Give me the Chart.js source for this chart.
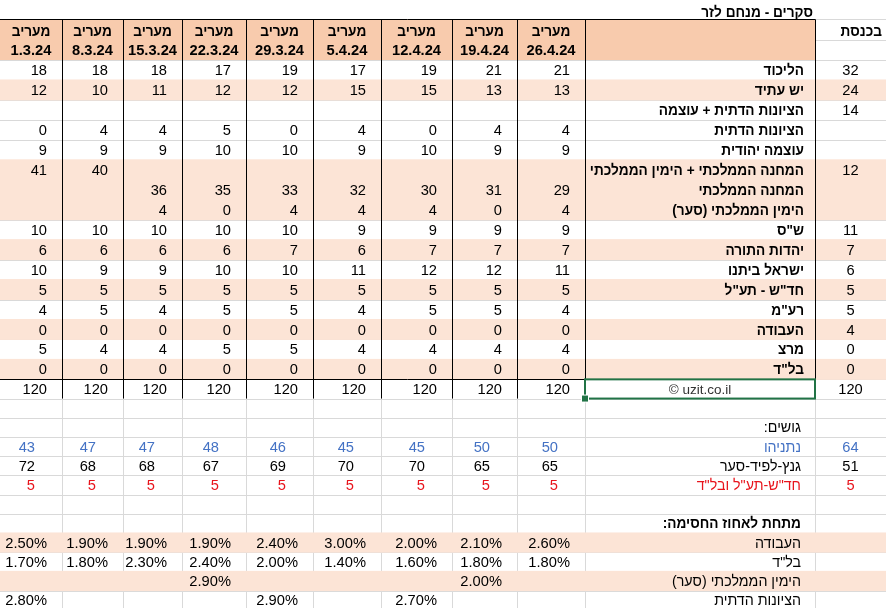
<!DOCTYPE html>
<html lang="he" dir="rtl">
<head>
<meta charset="utf-8">
<script src="https://cdn.jsdelivr.net/npm/chart.js@4.4.1/dist/chart.umd.min.js"></script>
<style>
html, body { margin: 0; padding: 0; background: #fff; overflow: hidden; }
#wrap { position: relative; width: 886px; height: 608px; }
</style>
</head>
<body>
<div id="wrap"><canvas id="grafica"></canvas></div>
<script>
// ---- datos ----
const titulo = 'סקרים - מנחם לזר';
const tituloKneset = 'בכנסת';
const iton = 'מעריב';
const sekerim = ['1.3.24', '8.3.24', '15.3.24', '22.3.24', '29.3.24', '5.4.24', '12.4.24', '19.4.24', '26.4.24'];

const miflagot = ['הליכוד', 'יש עתיד', 'הציונות הדתית + עוצמה', 'הציונות הדתית', 'עוצמה יהודית',
    'המחנה הממלכתי + הימין הממלכתי', 'המחנה הממלכתי', 'הימין הממלכתי (סער)', 'ש"ס', 'יהדות התורה',
    'ישראל ביתנו', 'חד"ש - תע"ל', 'רע"מ', 'העבודה', 'מרצ', 'בל"ד'];
const bakneset = [32, 24, 14, null, null, 12, null, null, 11, 7, 6, 5, 5, 4, 0, 0];

const likud = [18, 18, 18, 17, 19, 17, 19, 21, 21];
const yeshAtid = [12, 10, 11, 12, 12, 15, 15, 13, 13];
const tziyonutOtzma = [null, null, null, null, null, null, null, null, null];
const tziyonut = [0, 4, 4, 5, 0, 4, 0, 4, 4];
const otzma = [9, 9, 9, 10, 10, 9, 10, 9, 9];
const machaneYamin = [41, 40, null, null, null, null, null, null, null];
const machane = [null, null, 36, 35, 33, 32, 30, 31, 29];
const yamin = [null, null, 4, 0, 4, 4, 4, 0, 4];
const shas = [10, 10, 10, 10, 10, 9, 9, 9, 9];
const yahadut = [6, 6, 6, 6, 7, 6, 7, 7, 7];
const israelBeitenu = [10, 9, 9, 10, 10, 11, 12, 12, 11];
const hadash = [5, 5, 5, 5, 5, 5, 5, 5, 5];
const raam = [4, 5, 4, 5, 5, 4, 5, 5, 4];
const avoda = [0, 0, 0, 0, 0, 0, 0, 0, 0];
const meretz = [5, 4, 4, 5, 5, 4, 4, 4, 4];
const balad = [0, 0, 0, 0, 0, 0, 0, 0, 0];
const sachHakol = [120, 120, 120, 120, 120, 120, 120, 120, 120];
const sachKneset = 120;
const credito = '© uzit.co.il';

const tituloGushim = 'גושים:';
const gushim = ['נתניהו', 'גנץ-לפיד-סער', 'חד"ש-תע"ל ובל"ד'];
const gushBakneset = [64, 51, 5];
const netanyahu = [43, 47, 47, 48, 46, 45, 45, 50, 50];
const gantz = [72, 68, 68, 67, 69, 70, 70, 65, 65];
const hadashBalad = [5, 5, 5, 5, 5, 5, 5, 5, 5];

const tituloAchuz = 'מתחת לאחוז החסימה:';
const mitachat = ['העבודה', 'בל"ד', 'הימין הממלכתי (סער)', 'הציונות הדתית'];
const avodaAchuz = [2.5, 1.9, 1.9, 1.9, 2.4, 3.0, 2.0, 2.1, 2.6];
const baladAchuz = [1.7, 1.8, 2.3, 2.4, 2.0, 1.4, 1.6, 1.8, 1.8];
const yaminAchuz = [null, null, null, 2.9, null, null, null, 2.0, null];
const tziyonutAchuz = [2.8, null, null, null, 2.9, null, 2.7, null, null];

// ---- diseño ----
const FUENTE = '"Liberation Sans", Arial, sans-serif';
const TAM = 14.7;
const DURAZNO = '#f8cbad';
const DURAZNO_CLARO = '#fce4d6';
const AZUL = '#4472c4';
const ROJO = '#e8141c';
// columnas de derecha a izquierda: כנסת, תווית, 26.4 ... 1.3
const ANCHO_COL = [71, 230, 68, 65, 71, 68, 67, 64, 59, 61, 62];
const ALTO_FILA = [19.3, 20.35, 20.35].concat(Array(16).fill(19.96), Array(12).fill(19.2));

const bordesCol = [0];
ANCHO_COL.forEach(w => bordesCol.push(bordesCol[bordesCol.length - 1] + w));
const bordesFila = [0];
ALTO_FILA.forEach(h => bordesFila.push(bordesFila[bordesFila.length - 1] + h));
const ANCHO_TOTAL = bordesCol[bordesCol.length - 1];

const filasClaras = [4, 8, 9, 10, 12, 14, 16, 18, 27, 29];

const colSeker = i => 10 - i;
const centroFila = r => (bordesFila[r] + bordesFila[r + 1]) / 2;
const centroCol = k => (bordesCol[k] + bordesCol[k + 1]) / 2;

function derecha(k, r, t, pad, extra) {
    return Object.assign({ x: bordesCol[k] + pad, y: centroFila(r), t: String(t), a: 'right' }, extra || {});
}
function centro(k, r, t, extra) {
    return Object.assign({ x: centroCol(k), y: centroFila(r), t: String(t), a: 'center' }, extra || {});
}

// encabezado
const encabezado = [
    derecha(1, 0, titulo, 2, { b: true, dy: 2 }),
    derecha(0, 1, tituloKneset, 4, { b: true, dy: 1 })
];
sekerim.forEach((s, i) => {
    encabezado.push(centro(colSeker(i), 1, iton, { b: true, dy: 1.5 }));
    encabezado.push(centro(colSeker(i), 2, s, { b: true }));
});

// mandatim
const filasMiflagot = [likud, yeshAtid, tziyonutOtzma, tziyonut, otzma, machaneYamin, machane, yamin,
    shas, yahadut, israelBeitenu, hadash, raam, avoda, meretz, balad];
const etiquetas = [], valores = [], kneset = [];
miflagot.forEach((m, j) => {
    const r = 3 + j;
    etiquetas.push(derecha(1, r, m, 11, { b: true }));
    if (bakneset[j] !== null) kneset.push(centro(0, r, bakneset[j]));
    filasMiflagot[j].forEach((v, i) => {
        if (v !== null) valores.push(derecha(colSeker(i), r, v, 15));
    });
});
sachHakol.forEach((v, i) => valores.push(derecha(colSeker(i), 19, v, 15)));
kneset.push(centro(0, 19, sachKneset));
etiquetas.push(centro(1, 19, credito, { c: '#333', tam: 13.5 }));

// gushim
etiquetas.push(derecha(1, 21, tituloGushim, 14));
const colores = [AZUL, '#000', ROJO];
[netanyahu, gantz, hadashBalad].forEach((fila, j) => {
    const r = 22 + j;
    etiquetas.push(derecha(1, r, gushim[j], 14, { c: colores[j] }));
    kneset.push(centro(0, r, gushBakneset[j], { c: colores[j] }));
    fila.forEach((v, i) => valores.push(derecha(colSeker(i), r, v, 27, { c: colores[j] })));
});

// achuz hachasima
etiquetas.push(derecha(1, 26, tituloAchuz, 14, { b: true }));
[avodaAchuz, baladAchuz, yaminAchuz, tziyonutAchuz].forEach((fila, j) => {
    const r = 27 + j;
    etiquetas.push(derecha(1, r, mitachat[j], 14));
    fila.forEach((v, i) => {
        if (v !== null) valores.push(derecha(colSeker(i), r, v.toFixed(2) + '%', 15));
    });
});

// ---- plugin de tabla ----
const tablaPlugin = {
    id: 'tabla',
    beforeDatasetsDraw(chart) {
        const { ctx, scales: { x, y } } = chart;
        const X = v => x.getPixelForValue(v);
        const Y = v => y.getPixelForValue(v);
        const n = v => Math.round(v) + 0.5;
        ctx.save();

        // lineas de cuadricula
        ctx.strokeStyle = '#d9d9d9';
        ctx.lineWidth = 1;
        ctx.beginPath();
        for (let r = 1; r < bordesFila.length; r++) {
            ctx.moveTo(X(ANCHO_TOTAL), n(Y(bordesFila[r])));
            ctx.lineTo(X(0), n(Y(bordesFila[r])));
        }
        for (let k = 1; k < bordesCol.length - 1; k++) {
            ctx.moveTo(n(X(bordesCol[k])), Y(bordesFila[1]));
            ctx.lineTo(n(X(bordesCol[k])), Y(bordesFila[bordesFila.length - 1]));
        }
        ctx.stroke();

        // rellenos
        ctx.fillStyle = DURAZNO;
        ctx.fillRect(X(ANCHO_TOTAL), Y(bordesFila[1]), X(bordesCol[1]) - X(ANCHO_TOTAL), Y(bordesFila[3]) - Y(bordesFila[1]));
        ctx.fillStyle = DURAZNO_CLARO;
        filasClaras.forEach(r => {
            const y0 = Y(bordesFila[r]) - 0.5, y1 = Y(bordesFila[r + 1]) + 0.5;
            ctx.fillRect(X(ANCHO_TOTAL), y0, X(0) - X(ANCHO_TOTAL), y1 - y0);
        });

        // bordes negros
        ctx.strokeStyle = '#000';
        ctx.beginPath();
        ctx.moveTo(X(ANCHO_TOTAL), n(Y(bordesFila[1])));
        ctx.lineTo(X(bordesCol[1]), n(Y(bordesFila[1])));
        ctx.moveTo(X(ANCHO_TOTAL), n(Y(bordesFila[19])));
        ctx.lineTo(X(bordesCol[1]), n(Y(bordesFila[19])));
        for (let k = 1; k < bordesCol.length - 1; k++) {
            const fin = k === 1 ? 19 : 20;
            ctx.moveTo(n(X(bordesCol[k])), Y(bordesFila[1]));
            ctx.lineTo(n(X(bordesCol[k])), Y(bordesFila[fin]));
        }
        ctx.stroke();

        // celda seleccionada
        const sx0 = X(bordesCol[2]), sx1 = X(bordesCol[1]);
        const sy0 = Y(bordesFila[19]), sy1 = Y(bordesFila[20]);
        ctx.strokeStyle = '#217346';
        ctx.lineWidth = 2;
        ctx.strokeRect(sx0, sy0, sx1 - sx0, sy1 - sy0);
        ctx.fillStyle = '#fff';
        ctx.fillRect(sx0 - 4, sy1 - 4, 8, 8);
        ctx.fillStyle = '#217346';
        ctx.fillRect(sx0 - 3, sy1 - 3, 6, 6);
        ctx.restore();
    },
    afterDatasetsDraw(chart) {
        const { ctx } = chart;
        ctx.save();
        ctx.textBaseline = 'middle';
        chart.data.datasets.forEach((ds, di) => {
            const meta = chart.getDatasetMeta(di);
            meta.data.forEach((el, j) => {
                const p = ds.data[j];
                const hebreo = /[\u0590-\u05FF]/.test(p.t);
                // las letras hebreas de Liberation son algo mas anchas que las de Arial
                const sx = hebreo ? (p.b ? 0.93 : 0.97) : 1;
                ctx.font = (p.b ? 'bold ' : '') + (p.tam || TAM) + 'px ' + FUENTE;
                ctx.fillStyle = p.c || '#000';
                ctx.textAlign = p.a;
                ctx.direction = hebreo ? 'rtl' : 'ltr';
                ctx.save();
                ctx.translate(el.x, el.y + 1 + (p.dy || 0));
                ctx.scale(sx, 1);
                ctx.fillText(p.t, 0, 0);
                ctx.restore();
            });
        });
        ctx.restore();
    }
};

const grafica = document.getElementById('grafica');
new Chart(grafica, {
    type: 'scatter',
    data: {
        datasets: [
            { label: 'encabezado', data: encabezado },
            { label: 'etiquetas', data: etiquetas },
            { label: 'kneset', data: kneset },
            { label: 'valores', data: valores }
        ]
    },
    options: {
        responsive: true,
        maintainAspectRatio: false,
        animation: false,
        events: [],
        layout: { padding: 0 },
        elements: { point: { radius: 0, hoverRadius: 0 } },
        plugins: { legend: { display: false }, tooltip: { enabled: false } },
        scales: {
            x: { type: 'linear', min: 0, max: ANCHO_TOTAL, reverse: true, display: false },
            y: { type: 'linear', min: 0, max: 608, reverse: true, display: false }
        }
    },
    plugins: [tablaPlugin]
});
</script>
</body>
</html>
